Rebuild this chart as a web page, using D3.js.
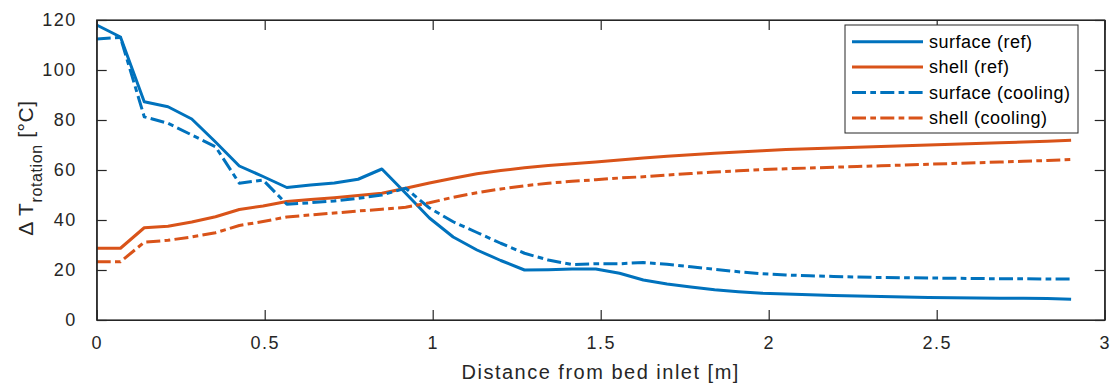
<!DOCTYPE html>
<html><head><meta charset="utf-8">
<script src="https://cdn.jsdelivr.net/npm/d3@7"></script>
<style>
body{margin:0;background:#fff;}
text{font-family:"Liberation Sans",Arial,Helvetica,sans-serif;}
</style></head>
<body><svg id="c" width="1111" height="385"></svg>
<script>
const nPts = 42, xMax = 2.9;
const surfaceRef = [118,113.2,87.3,85.3,80.4,71.2,61.6,57.4,53,54,54.8,56.3,60.4,50.7,40.8,33.2,28,23.8,20,20.1,20.4,20.4,18.7,16,14.4,13.2,12.1,11.3,10.7,10.4,10.1,9.8,9.6,9.4,9.2,9.0,8.9,8.8,8.7,8.7,8.6,8.3];
const shellRef = [28.7,28.7,36.9,37.5,39.2,41.3,44.2,45.6,47.4,48.2,48.9,49.8,50.7,52.7,54.8,56.7,58.5,59.8,60.9,61.8,62.5,63.2,64.0,64.8,65.5,66.1,66.7,67.2,67.7,68.2,68.5,68.8,69.1,69.4,69.7,70.0,70.3,70.6,70.9,71.2,71.5,71.9];
const surfaceCool = [112.4,113,81.3,78.7,74,69.3,54.7,56,46.3,46.9,47.6,48.7,50,52.7,44.8,39.3,35,30.7,26.7,24,22.2,22.5,22.5,23,22.3,21.3,20.3,19.3,18.5,18.0,17.7,17.4,17.2,17.0,16.9,16.8,16.7,16.6,16.5,16.5,16.4,16.4];
const shellCool = [23.3,23.3,31.1,31.9,33.2,34.9,37.8,39.4,41.2,42,42.8,43.6,44.3,45.1,46.9,49.1,50.9,52.4,53.7,54.7,55.5,56.1,56.8,57.3,58,58.6,59.2,59.7,60.2,60.5,60.8,61.1,61.4,61.7,62.0,62.3,62.6,62.9,63.2,63.5,63.8,64.2];
const seriesNames = ["surface (ref)","shell (ref)","surface (cooling)","shell (cooling)"];
const xTicks = [0,0.5,1,1.5,2,2.5,3];
const yTicks = [0,20,40,60,80,100,120];
const xLabel = "Distance from bed inlet [m]";

const blue = "#0072BD", orange = "#D95319", axc = "#262626";
const dashDot = "14,4.3,5.7,4.3";
const series = [
  {name:seriesNames[0], v:surfaceRef, c:blue, d:null},
  {name:seriesNames[1], v:shellRef, c:orange, d:null},
  {name:seriesNames[2], v:surfaceCool, c:blue, d:dashDot},
  {name:seriesNames[3], v:shellCool, c:orange, d:dashDot}
];

const L=96.7, R=1104.7, T=20, B=320;
const svg = d3.select("#c");
const x = d3.scaleLinear().domain([0,3]).range([L,R]);
const y = d3.scaleLinear().domain([0,120]).range([B,T]);
const xv = i => i*xMax/(nPts-1);

const g = svg.append("g");
series.forEach(s=>{
  g.append("path").datum(s.v)
   .attr("fill","none").attr("stroke",s.c).attr("stroke-width",3)
   .attr("stroke-dasharray",s.d).attr("stroke-linejoin","round")
   .attr("d", d3.line().x((d,i)=>x(xv(i))).y(d=>y(d)));
});

// axes
const xa = svg.append("g").attr("transform",`translate(0,${B})`)
  .call(d3.axisBottom(x).tickValues(xTicks).tickSizeInner(-10).tickSizeOuter(0).tickPadding(16).tickFormat(d3.format("")));
const xt = svg.append("g").attr("transform",`translate(0,${T})`)
  .call(d3.axisTop(x).tickValues(xTicks).tickSizeInner(-10).tickSizeOuter(0).tickFormat(""));
const ya = svg.append("g").attr("transform",`translate(${L},0)`)
  .call(d3.axisLeft(y).tickValues(yTicks).tickSizeInner(-10).tickSizeOuter(0).tickPadding(20));
const yr = svg.append("g").attr("transform",`translate(${R},0)`)
  .call(d3.axisRight(y).tickValues(yTicks).tickSizeInner(-10).tickSizeOuter(0).tickFormat(""));
[xa,xt,ya,yr].forEach(a=>{
  a.selectAll("path").attr("stroke",axc).attr("stroke-width",1.2);
  a.selectAll("line").attr("stroke",axc).attr("stroke-width",1.2);
  a.selectAll("text").attr("fill",axc).style("font-size","18px").style("letter-spacing","1.5px")
   .style("font-family","'Liberation Sans',Arial,sans-serif");
});
svg.append("rect").attr("x",L).attr("y",T).attr("width",R-L).attr("height",B-T)
  .attr("fill","none").attr("stroke",axc).attr("stroke-width",1.2);

// x label
svg.append("text").attr("x",(L+R)/2).attr("y",379).attr("text-anchor","middle")
  .attr("fill",axc).style("font-size","20px").style("letter-spacing","1.5px").text(xLabel);
// y label
const yl = svg.append("text").attr("transform",`translate(33,${(T+B)/2 - 2}) rotate(-90)`)
  .attr("text-anchor","middle").attr("fill",axc).style("font-size","21px").style("letter-spacing","0.6px");
yl.append("tspan").text("\u0394 T");
yl.append("tspan").attr("dy",9).style("font-size","16px").text("rotation");
yl.append("tspan").attr("dy",-9).text(" [\u00B0C]");

// legend
const lg = svg.append("g");
lg.append("rect").attr("x",845).attr("y",25).attr("width",233).attr("height",108)
  .attr("fill","#fff").attr("stroke",axc).attr("stroke-width",1);
series.forEach((s,i)=>{
  const yy = 41.7 + i*25.4;
  lg.append("line").attr("x1",852).attr("x2",923).attr("y1",yy).attr("y2",yy)
    .attr("stroke",s.c).attr("stroke-width",3).attr("stroke-dasharray",s.d);
  lg.append("text").attr("x",929).attr("y",yy).attr("dy","0.35em")
    .attr("fill","#000").style("font-size","18px").style("letter-spacing","0.5px").text(s.name);
});
</script></body></html>
